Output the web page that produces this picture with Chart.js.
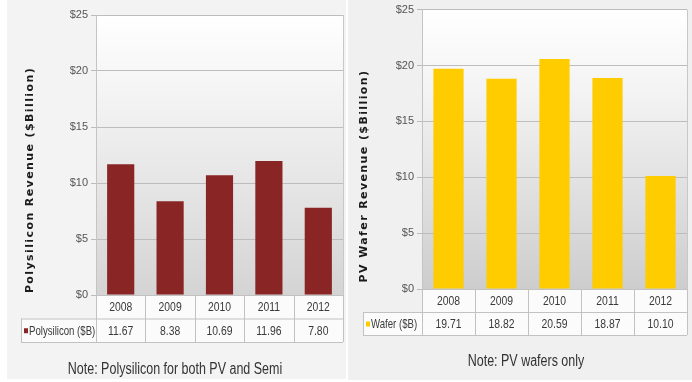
<!DOCTYPE html>
<html>
<head>
<meta charset="utf-8">
<script src="https://cdn.jsdelivr.net/npm/chart.js@4.4.1/dist/chart.umd.min.js"></script>
<style>
  html, body { margin: 0; padding: 0; background: #ffffff; }
  #wrap { position: relative; width: 692px; height: 382px; }
  #left { position: absolute; left: 0; top: 0; }
  #right { position: absolute; left: 348px; top: 0; }
</style>
</head>
<body>
<div id="wrap">
  <canvas id="left" width="346" height="382"></canvas>
  <canvas id="right" width="344" height="382"></canvas>
</div>
<script>
// data
const years = ['2008', '2009', '2010', '2011', '2012'];
const polysiliconRevenue = [11.67, 8.38, 10.69, 11.96, 7.80];
const waferRevenue = [19.71, 18.82, 20.59, 18.87, 10.10];
const yMax = 25;
const yStep = 5;

const SANS = '"Liberation Sans", Arial, sans-serif';

// the source uses a condensed face, squeeze the text horizontally
function narrowText(ctx, text, x, y, squeeze) {
    ctx.save();
    ctx.translate(x, y);
    ctx.scale(squeeze, 1);
    ctx.fillText(text, 0, 0);
    ctx.restore();
}

// panel background, plot gradient, table, note and rotated axis title
const panelPlugin = {
    id: 'panel',
    beforeDraw(chart, args, o) {
        const { ctx, chartArea: a } = chart;
        ctx.save();
        ctx.fillStyle = o.panelColor;
        ctx.fillRect(o.boxLeft, 0, o.boxRight - o.boxLeft, o.boxBottom);
        const g = ctx.createLinearGradient(0, a.top, 0, a.bottom);
        g.addColorStop(0, '#ffffff');
        g.addColorStop(0.3, '#f3f3f3');
        g.addColorStop(1, o.plotBottom);
        ctx.fillStyle = g;
        ctx.fillRect(a.left, a.top, a.right - a.left, a.bottom - a.top);
        ctx.restore();
    },
    afterDraw(chart, args, o) {
        const { ctx, chartArea: a, scales: { x } } = chart;
        const n = chart.data.labels.length;
        const top = a.bottom, mid = top + o.rowH, bot = mid + o.rowH;
        const bounds = [a.left];
        for (let i = 0; i < n - 1; i++) {
            bounds.push((x.getPixelForValue(i) + x.getPixelForValue(i + 1)) / 2);
        }
        bounds.push(a.right);

        ctx.save();
        ctx.fillStyle = '#fbfbfb';
        ctx.fillRect(a.left, top, a.right - a.left, o.rowH);
        ctx.fillRect(o.labelLeft, mid, a.right - o.labelLeft, o.rowH);

        ctx.strokeStyle = '#c2c2c2';
        ctx.lineWidth = 1;
        ctx.beginPath();
        ctx.moveTo(a.left, top + 0.5); ctx.lineTo(a.right, top + 0.5);
        ctx.moveTo(o.labelLeft, mid + 0.5); ctx.lineTo(a.right, mid + 0.5);
        ctx.moveTo(o.labelLeft, bot + 0.5); ctx.lineTo(a.right, bot + 0.5);
        ctx.moveTo(o.labelLeft + 0.5, mid); ctx.lineTo(o.labelLeft + 0.5, bot);
        bounds.forEach(b => {
            const px = Math.round(b) + 0.5;
            ctx.moveTo(px, top); ctx.lineTo(px, bot);
        });
        ctx.stroke();

        const vals = chart.data.datasets[0].data;
        ctx.fillStyle = '#3a3a3a';
        ctx.font = '13px ' + SANS;
        ctx.textAlign = 'center';
        ctx.textBaseline = 'middle';
        for (let i = 0; i < n; i++) {
            const cx = x.getPixelForValue(i);
            narrowText(ctx, chart.data.labels[i], cx, top + o.rowH / 2 + 1, 0.8);
            narrowText(ctx, vals[i].toFixed(2), cx, mid + o.rowH / 2 + 1, 0.8);
        }

        // legend key + series label
        ctx.fillStyle = chart.data.datasets[0].backgroundColor;
        ctx.fillRect(o.labelLeft + 3, mid + o.rowH / 2 - 2, 4, 5);
        ctx.fillStyle = '#3a3a3a';
        ctx.textAlign = 'left';
        narrowText(ctx, chart.data.datasets[0].label, o.labelLeft + 8, mid + o.rowH / 2 + 1, 0.74);

        // note
        ctx.font = '16px ' + SANS;
        ctx.textAlign = 'center';
        ctx.fillStyle = '#333333';
        narrowText(ctx, o.note, o.noteX, o.noteY, 0.78);

        // rotated axis title
        ctx.translate(o.titleX, o.titleY);
        ctx.rotate(-Math.PI / 2);
        ctx.font = 'bold 11px "DejaVu Sans", Verdana, sans-serif';
        ctx.letterSpacing = '1.4px';
        ctx.fillStyle = '#1a1a1a';
        ctx.fillText(o.title, 0, 0);
        ctx.restore();
    }
};

function makeChart(id, cfg) {
    return new Chart(document.getElementById(id), {
        type: 'bar',
        data: {
            labels: years,
            datasets: [{
                label: cfg.label,
                data: cfg.values,
                backgroundColor: cfg.color,
                borderWidth: 0,
                categoryPercentage: 1,
                barPercentage: cfg.barPct
            }]
        },
        options: {
            responsive: false,
            animation: false,
            layout: { padding: cfg.padding },
            plugins: {
                legend: { display: false },
                tooltip: { enabled: false },
                panel: cfg.panel
            },
            scales: {
                x: {
                    display: true,
                    grid: { display: false },
                    border: { display: false },
                    ticks: { display: false },
                    afterFit: s => { s.height = cfg.panel.rowH * 2; }
                },
                y: {
                    min: 0,
                    max: yMax,
                    ticks: {
                        stepSize: yStep,
                        padding: 3,
                        color: '#555555',
                        font: { family: SANS, size: 11 },
                        callback: v => '$' + v
                    },
                    grid: { color: '#bdbdbd', tickLength: 5, tickColor: '#bbbbbb' },
                    border: { color: '#c4c4c4' },
                    afterFit: s => { s.width = cfg.yWidth; }
                }
            }
        },
        plugins: [panelPlugin, {
            id: 'rightEdge',
            afterDatasetsDraw(chart) {
                const { ctx, chartArea: a } = chart;
                ctx.save();
                ctx.strokeStyle = '#c8c8c8';
                ctx.beginPath();
                ctx.moveTo(Math.round(a.right) + 0.5, a.top);
                ctx.lineTo(Math.round(a.right) + 0.5, a.bottom);
                ctx.stroke();
                ctx.restore();
            }
        }]
    });
}

makeChart('left', {
    label: 'Polysilicon ($B)',
    values: polysiliconRevenue,
    color: '#8a2525',
    barPct: 0.55,
    padding: { left: 40, right: 3, top: 15, bottom: 40 },
    yWidth: 56,
    panel: {
        panelColor: '#f3f3f3', plotBottom: '#d4d4d4',
        boxLeft: 7, boxRight: 346, boxBottom: 379,
        rowH: 23.5, labelLeft: 21,
        note: 'Note: Polysilicon for both PV and Semi', noteX: 175, noteY: 370,
        title: 'Polysilicon Revenue ($Billion)', titleX: 30, titleY: 180
    }
});

makeChart('right', {
    label: 'Wafer ($B)',
    values: waferRevenue,
    color: '#ffcc00',
    barPct: 0.57,
    padding: { left: 20, right: 5, top: 9, bottom: 47 },
    yWidth: 54,
    panel: {
        panelColor: '#f0f0f0', plotBottom: '#cdcdcd',
        boxLeft: 0, boxRight: 344, boxBottom: 380,
        rowH: 23, labelLeft: 15,
        note: 'Note: PV wafers only', noteX: 178, noteY: 362,
        title: 'PV Wafer Revenue ($Billion)', titleX: 16, titleY: 176
    }
});
</script>
</body>
</html>
